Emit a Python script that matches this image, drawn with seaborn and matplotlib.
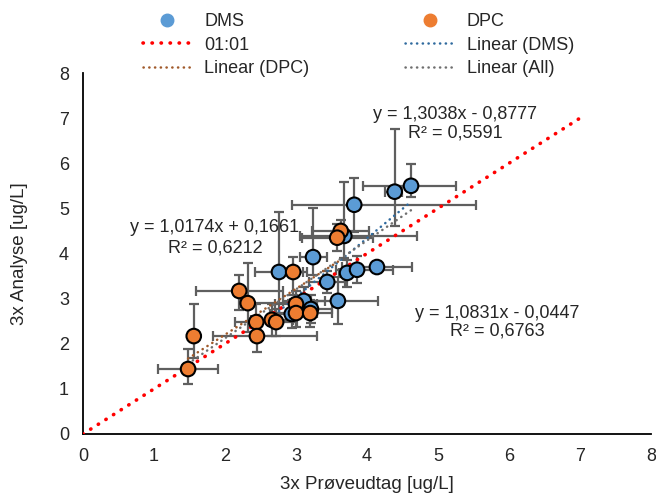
import numpy as np
import pandas as pd
import matplotlib
matplotlib.use("Agg")
import matplotlib.pyplot as plt
import seaborn as sns
from matplotlib.lines import Line2D

# ---------------- data ----------------
dms_x = [4.62, 4.39, 3.82, 3.68, 3.24, 2.76, 3.72, 3.86, 4.14, 3.44, 3.11, 3.59, 3.21, 2.94]
dms_y = [5.50, 5.37, 5.08, 4.39, 3.92, 3.59, 3.57, 3.64, 3.70, 3.37, 2.95, 2.95, 2.77, 2.66]
dms_xerr_lo = [0.68, 0.13, 0.87, 0.62, 0.19, 0.34, 0.12, 0.30, 0.49, 0.25, 0.30, 0.56, 0.30, 0.30]
dms_xerr_hi = [0.63, 0.10, 1.72, 1.03, 0.19, 0.34, 0.12, 0.50, 0.49, 0.25, 0.30, 0.56, 0.30, 0.30]
dms_yerr_lo = [0.24, 0.75, 0.60, 0.50, 0.40, 1.10, 0.31, 0.30, 0.10, 0.25, 0.30, 0.52, 0.30, 0.30]
dms_yerr_hi = [0.49, 1.40, 0.60, 1.20, 1.09, 1.33, 0.29, 0.30, 0.10, 0.25, 0.30, 0.52, 0.30, 0.30]

dpc_x = [3.63, 3.58, 2.96, 2.20, 2.32, 3.00, 3.00, 3.20, 2.66, 2.72, 2.44, 2.45, 1.56, 1.48]
dpc_y = [4.50, 4.35, 3.59, 3.17, 2.90, 2.88, 2.68, 2.68, 2.53, 2.48, 2.48, 2.17, 2.17, 1.44]
dpc_xerr_lo = [0.40, 0.50, 0.20, 0.61, 0.10, 0.30, 0.30, 0.30, 0.30, 0.30, 0.30, 0.62, 0.05, 0.42]
dpc_xerr_hi = [0.40, 0.50, 0.20, 0.61, 0.60, 0.30, 0.30, 0.30, 0.30, 0.30, 0.30, 0.85, 0.05, 0.42]
dpc_yerr_lo = [0.25, 0.30, 0.50, 0.42, 0.64, 0.30, 0.30, 0.30, 0.35, 0.30, 0.40, 0.36, 0.49, 0.33]
dpc_yerr_hi = [0.25, 0.30, 0.33, 0.36, 0.89, 0.30, 0.30, 0.30, 0.35, 0.30, 0.40, 0.36, 0.71, 0.44]

one_to_one = [0, 7]

# trendline coefficients as printed on the chart: slope, intercept, R²
fit_names = ["DMS", "DPC", "All"]
fit_slope = [1.3038, 1.0174, 1.0831]
fit_intercept = [-0.8777, 0.1661, -0.0447]
fit_r2 = ["0,5591", "0,6212", "0,6763"]
fit_eq = ["y = 1,3038x - 0,8777", "y = 1,0174x + 0,1661", "y = 1,0831x - 0,0447"]

x_ticks = [0, 1, 2, 3, 4, 5, 6, 7, 8]
y_ticks = [0, 1, 2, 3, 4, 5, 6, 7, 8]

# ---------------- style ----------------
sns.set_style("white")
plt.rcParams['font.family'] = ['Liberation Sans', 'DejaVu Sans']

C_DMS = "#5B9BD5"
C_DPC = "#ED7D31"
C_ERR = "#5f5f5f"
C_TXT = "#262626"

fig = plt.figure(figsize=(6.56, 4.93), dpi=100)
ax = fig.add_axes([83/656, 59/493, 568/656, 361/493])

df = pd.DataFrame({
    "x": dms_x + dpc_x,
    "y": dms_y + dpc_y,
    "series": ["DMS"] * len(dms_x) + ["DPC"] * len(dpc_x),
})

# error bars
ax.errorbar(dms_x, dms_y, xerr=[dms_xerr_lo, dms_xerr_hi], yerr=[dms_yerr_lo, dms_yerr_hi],
            fmt="none", ecolor=C_ERR, elinewidth=1.6, capsize=3.5, capthick=1.6, zorder=2)
ax.errorbar(dpc_x, dpc_y, xerr=[dpc_xerr_lo, dpc_xerr_hi], yerr=[dpc_yerr_lo, dpc_yerr_hi],
            fmt="none", ecolor=C_ERR, elinewidth=1.6, capsize=3.5, capthick=1.6, zorder=2)

# 1:1 line
ax.plot(one_to_one, one_to_one, color="#FF0000", lw=2.6, ls=(0, (0.1, 2.4)),
        dash_capstyle="round", zorder=3)

# trendlines
fit_colors = {"DMS": "#2F6A9E", "DPC": "#A0592A", "All": "#6f6f6f"}
xs_map = {"DMS": dms_x, "DPC": dpc_x, "All": dms_x + dpc_x}
for name, m, b in zip(fit_names, fit_slope, fit_intercept):
    xs = np.array([min(xs_map[name]), max(xs_map[name])])
    ax.plot(xs, m * xs + b, color=fit_colors[name], lw=1.8, ls=(0, (0.1, 2.2)),
            dash_capstyle="round", zorder=3)

# markers
sns.scatterplot(data=df, x="x", y="y", hue="series", palette={"DMS": C_DMS, "DPC": C_DPC},
                s=110, edgecolor="black", linewidth=1.5, legend=False, zorder=4, ax=ax)

# equations
eq_pos = {"DMS": (5.24, 7.07, 6.66), "DPC": (1.86, 4.57, 4.12), "All": (5.83, 2.68, 2.28)}
for name, eq, r2 in zip(fit_names, fit_eq, fit_r2):
    px, py1, py2 = eq_pos[name]
    ax.text(px, py1, eq, ha="center", va="center", fontsize=13, color=C_TXT, zorder=5)
    ax.text(px, py2, "R² = " + r2, ha="center", va="center", fontsize=13, color=C_TXT, zorder=5)

ax.set_xlim(0, 8)
ax.set_ylim(0, 8)
ax.set_xticks(x_ticks)
ax.set_yticks(y_ticks)
ax.tick_params(axis="both", length=0, labelsize=13, labelcolor=C_TXT, pad=10)
for s in ["top", "right"]:
    ax.spines[s].set_visible(False)
for s in ["left", "bottom"]:
    ax.spines[s].set_color("black")
    ax.spines[s].set_linewidth(1.3)
ax.set_xlabel("3x Prøveudtag [ug/L]", fontsize=13.5, color=C_TXT, labelpad=8)
ax.set_ylabel("3x Analyse [ug/L]", fontsize=13.5, color=C_TXT, labelpad=22)
ax.grid(False)

handles = [
    Line2D([], [], ls="none", marker="o", ms=9, mfc=C_DMS, mec=C_DMS),
    Line2D([], [], color="#FF0000", lw=2.6, ls=(0, (0.1, 2.4)), dash_capstyle="round"),
    Line2D([], [], color=fit_colors["DPC"], lw=1.8, ls=(0, (0.1, 2.2)), dash_capstyle="round"),
    Line2D([], [], ls="none", marker="o", ms=9, mfc=C_DPC, mec=C_DPC),
    Line2D([], [], color=fit_colors["DMS"], lw=1.8, ls=(0, (0.1, 2.2)), dash_capstyle="round"),
    Line2D([], [], color=fit_colors["All"], lw=1.8, ls=(0, (0.1, 2.2)), dash_capstyle="round"),
]
labels = ["DMS", "01:01", "Linear (DPC)", "DPC", "Linear (DMS)", "Linear (All)"]
fig.legend(handles, labels, ncol=2, loc="upper left", bbox_to_anchor=(143/656, 1 - 13/493),
           frameon=False, fontsize=13, handlelength=2.7, handletextpad=0.7,
           columnspacing=5.3, labelspacing=0.36, borderpad=0, borderaxespad=0,
           labelcolor=C_TXT)

fig.savefig("out.png", dpi=100)
